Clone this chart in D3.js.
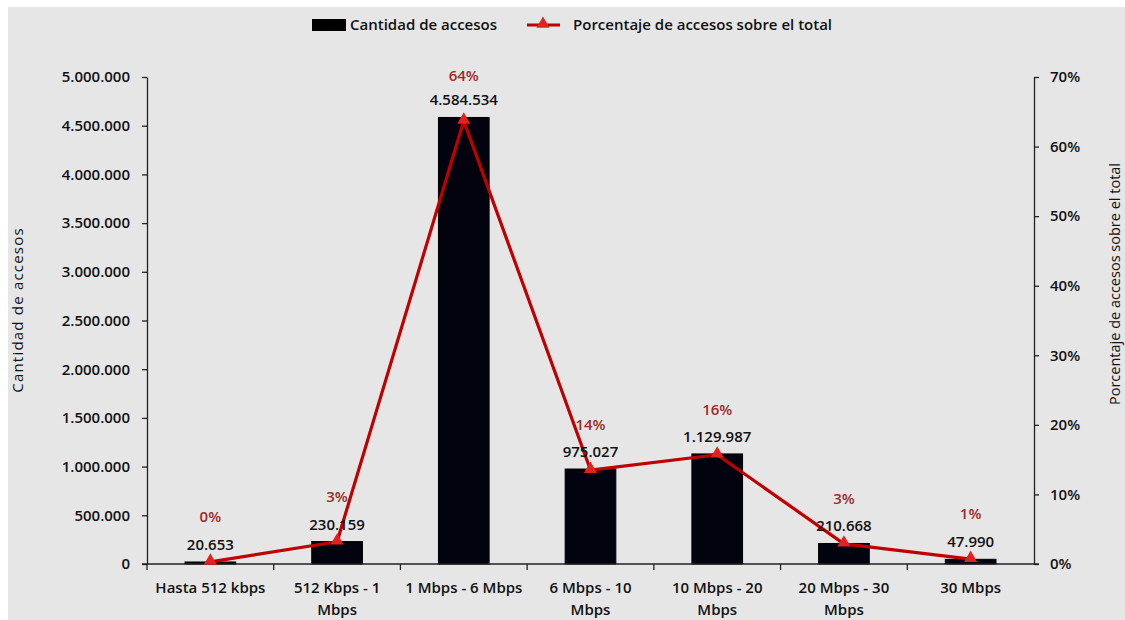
<!DOCTYPE html>
<html>
<head>
<meta charset="utf-8">
<script src="https://cdn.jsdelivr.net/npm/d3@7"></script>
<style>
  body { margin: 0; background: #fff; }
  svg text { font-family: "Open Sans", "Noto Sans", sans-serif; font-weight: 600; }
</style>
</head>
<body>
<div id="chart"></div>
<script>
// data
const categories = ['Hasta 512 kbps', '512 Kbps - 1 Mbps', '1 Mbps - 6 Mbps', '6 Mbps - 10 Mbps',
                    '10 Mbps - 20 Mbps', '20 Mbps - 30 Mbps', '30 Mbps'];
const accesos = [20653, 230159, 4584534, 975027, 1129987, 210668, 47990];
const porcentaje = [0.003, 0.032, 0.637, 0.135, 0.157, 0.029, 0.007];
const porcentajeLabels = ['0%', '3%', '64%', '14%', '16%', '3%', '1%'];
const leftTicks = d3.range(0, 5000001, 500000);
const rightTicks = [0, 0.1, 0.2, 0.3, 0.4, 0.5, 0.6, 0.7];

const W = 1125, H = 620;
const plot = { left: 147, right: 1034, top: 77, bottom: 564 };
const lineColor = '#c00000', markerColor = '#e42020', pctColor = '#9b2b2b';
const fs = '15px';

const es = d3.formatLocale({ decimal: ',', thousands: '.', grouping: [3], currency: ['', ''] });
const fmt = es.format(',d');

const svg = d3.select('#chart').append('svg')
    .attr('width', W)
    .attr('height', H);

svg.append('rect')
    .attr('x', 8).attr('y', 7)
    .attr('width', W - 8).attr('height', H - 7)
    .attr('fill', '#e6e6e6');

const x = d3.scaleBand()
    .domain(categories)
    .range([plot.left, plot.right])
    .paddingInner(0).paddingOuter(0);
const y = d3.scaleLinear().domain([0, 5000000]).range([plot.bottom, plot.top]);
const y2 = d3.scaleLinear().domain([0, 0.7]).range([plot.bottom, plot.top]);
const barW = x.bandwidth() * 0.4;
const cx = c => x(c) + x.bandwidth() / 2;

// bars
svg.append('g').selectAll('rect')
    .data(categories)
    .enter().append('rect')
    .attr('x', d => cx(d) - barW / 2)
    .attr('y', (d, i) => y(accesos[i]))
    .attr('width', barW)
    .attr('height', (d, i) => plot.bottom - y(accesos[i]))
    .attr('fill', '#03030f')
    .attr('stroke', '#000')
    .attr('stroke-width', 1);

// axes
function styleAxis(g) {
    g.select('.domain').attr('stroke', '#222').attr('stroke-width', 1.3);
    g.selectAll('.tick line').attr('stroke', '#222').attr('stroke-width', 1.3);
    g.selectAll('.tick text').attr('fill', '#111').style('font-size', fs);
}

svg.append('g')
    .attr('transform', `translate(${plot.left},0)`)
    .call(d3.axisLeft(y).tickValues(leftTicks).tickFormat(fmt).tickSize(5).tickPadding(12).tickSizeOuter(0))
    .call(styleAxis);

svg.append('g')
    .attr('transform', `translate(${plot.right},0)`)
    .call(d3.axisRight(y2).tickValues(rightTicks).tickFormat(d3.format('.0%')).tickSize(5).tickPadding(11).tickSizeOuter(0))
    .call(styleAxis);

const xAxis = svg.append('g')
    .attr('transform', `translate(0,${plot.bottom})`)
    .call(d3.axisBottom(x).tickSize(0).tickPadding(18).tickSizeOuter(0))
    .call(styleAxis);
xAxis.select('.domain').attr('d', `M${plot.left - 5},0H${plot.right + 5}`);

// boundary ticks between categories
svg.append('g').selectAll('line')
    .data(categories)
    .enter().append('line')
    .attr('x1', d => x(d)).attr('x2', d => x(d))
    .attr('y1', plot.bottom).attr('y2', plot.bottom + 6)
    .attr('stroke', '#222').attr('stroke-width', 1.3);

// wrap long category names like Excel does
xAxis.selectAll('.tick text').each(function() {
    const t = d3.select(this);
    const words = t.text().split(' ');
    const maxW = x.bandwidth() - 4;
    t.text(null);
    let line = [], tspan = t.append('tspan').attr('x', 0).attr('dy', '0.71em');
    words.forEach(w => {
        line.push(w);
        tspan.text(line.join(' '));
        if (tspan.node().getComputedTextLength() > maxW && line.length > 1) {
            line.pop();
            tspan.text(line.join(' '));
            line = [w];
            tspan = t.append('tspan').attr('x', 0).attr('dy', '22px').text(w);
        }
    });
});

// axis titles
svg.append('text')
    .attr('transform', `translate(23,310) rotate(-90)`)
    .attr('text-anchor', 'middle')
    .style('font-size', fs).style('font-weight', 400).style('letter-spacing', '1.2px')
    .attr('fill', '#111')
    .text('Cantidad de accesos');

svg.append('text')
    .attr('transform', `translate(1120,284) rotate(-90)`)
    .attr('text-anchor', 'middle')
    .style('font-size', '14.5px').style('font-weight', 400)
    .attr('fill', '#111')
    .text('Porcentaje de accesos sobre el total');

// line series
const line = d3.line()
    .x((d, i) => cx(categories[i]))
    .y(d => y2(d));

svg.append('path')
    .datum(porcentaje)
    .attr('d', line)
    .attr('fill', 'none')
    .attr('stroke', lineColor)
    .attr('stroke-width', 3.2)
    .attr('stroke-linejoin', 'round');

const tri = d3.symbol().type(d3.symbolTriangle).size(75);
svg.append('g').selectAll('path')
    .data(porcentaje)
    .enter().append('path')
    .attr('d', tri)
    .attr('transform', (d, i) => `translate(${cx(categories[i])},${y2(d) - 1})`)
    .attr('fill', markerColor);

// value labels
svg.append('g').selectAll('text')
    .data(accesos)
    .enter().append('text')
    .attr('x', (d, i) => cx(categories[i]))
    .attr('y', d => y(d) - 12)
    .attr('text-anchor', 'middle')
    .style('font-size', fs)
    .attr('fill', '#111')
    .text(d => fmt(d));

svg.append('g').selectAll('text')
    .data(porcentaje)
    .enter().append('text')
    .attr('x', (d, i) => cx(categories[i]))
    .attr('y', d => y2(d) - 40)
    .attr('text-anchor', 'middle')
    .style('font-size', fs)
    .attr('fill', pctColor)
    .text((d, i) => porcentajeLabels[i]);

// legend
const lg = svg.append('g').style('font-size', fs);
lg.append('rect').attr('x', 312).attr('y', 19).attr('width', 34).attr('height', 12).attr('fill', '#000');
lg.append('text').attr('x', 350).attr('y', 25).attr('dy', '0.35em').attr('fill', '#111').text('Cantidad de accesos');
lg.append('line').attr('x1', 527).attr('x2', 560).attr('y1', 25).attr('y2', 25)
    .attr('stroke', lineColor).attr('stroke-width', 3);
lg.append('path').attr('d', tri).attr('transform', 'translate(543,24)').attr('fill', markerColor);
lg.append('text').attr('x', 573).attr('y', 25).attr('dy', '0.35em').attr('fill', '#111')
    .text('Porcentaje de accesos sobre el total');
</script>
</body>
</html>
